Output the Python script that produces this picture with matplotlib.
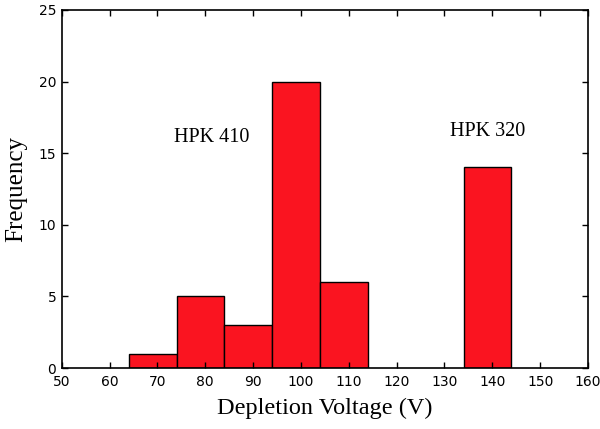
import numpy as np
import matplotlib.pyplot as plt

# Histogram data (bin edges and counts)
left_edges = [64, 74, 84, 94, 104, 134]
counts = [1, 5, 3, 20, 6, 14]
bin_width = 10

xticks = list(range(50, 161, 10))
yticks = [0, 5, 10, 15, 20, 25]

fig = plt.figure(figsize=(6, 4.29), dpi=100)
ax = fig.add_axes([0.103, 0.142, 0.877, 0.835])

ax.bar(left_edges, counts, width=bin_width, align='edge',
       color='#fa1420', edgecolor='black', linewidth=1.0)

ax.set_xlim(50, 160)
ax.set_ylim(0, 25)
ax.set_xticks(xticks)
ax.set_yticks(yticks)
ax.tick_params(direction='in', top=True, right=True, length=4, width=1,
               labelsize=10)
ax.tick_params(axis='x', pad=5)
ax.tick_params(axis='y', pad=4)
for lab in ax.get_xticklabels() + ax.get_yticklabels():
    lab.set_family('DejaVu Sans')
for s in ax.spines.values():
    s.set_linewidth(1.2)

ax.set_xlabel('Depletion Voltage (V)', family='Liberation Serif', fontsize=17.5, labelpad=6)
ax.set_ylabel('Frequency', family='Liberation Serif', fontsize=18, labelpad=8)

ax.text(81.4, 16.1, 'HPK 410', family='Liberation Serif', fontsize=14.5,
        ha='center', va='center')
ax.text(139.1, 16.5, 'HPK 320', family='Liberation Serif', fontsize=14.5,
        ha='center', va='center')

fig.savefig('out.png', dpi=100)
